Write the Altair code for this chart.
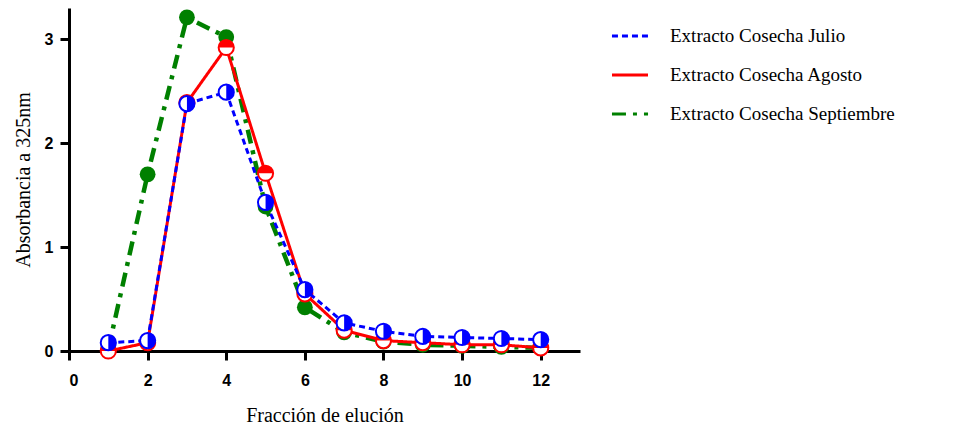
import altair as alt
import pandas as pd

fraccion = [1, 2, 3, 4, 5, 6, 7, 8, 9, 10, 11, 12]
julio = [0.08, 0.10, 2.38, 2.49, 1.43, 0.59, 0.27, 0.19, 0.14, 0.13, 0.12, 0.11]
agosto = [0.00, 0.08, 2.39, 2.92, 1.71, 0.55, 0.20, 0.10, 0.08, 0.06, 0.06, 0.03]
septiembre = [0.02, 1.70, 3.21, 3.02, 1.39, 0.42, 0.18, 0.09, 0.06, 0.05, 0.04, 0.03]

series_names = ["Extracto Cosecha Julio", "Extracto Cosecha Agosto", "Extracto Cosecha Septiembre"]
series_colors = ["#0000FF", "#FF0000", "#008000"]
series_dash = [[6, 4], [1, 0], [14, 7, 4, 7]]
series_values = [julio, agosto, septiembre]

rows = []
for name, vals in zip(series_names, series_values):
    for f, v in zip(fraccion, vals):
        rows.append({"fraccion": f, "absorbancia": v, "serie": name})
df = pd.DataFrame(rows)

x = alt.X("fraccion:Q", scale=alt.Scale(domain=[0, 13], nice=False),
          axis=alt.Axis(values=[0, 2, 4, 6, 8, 10, 12], title="Fracción de elución",
                        labelPadding=12, titlePadding=17))
y = alt.Y("absorbancia:Q", scale=alt.Scale(domain=[0, 3.3], nice=False),
          axis=alt.Axis(values=[0, 1, 2, 3], title="Absorbancia a 325nm",
                        labelPadding=7, titlePadding=11))

leg = dict(title=None, orient="none", legendX=541, legendY=8,
           symbolType="stroke", symbolSize=1300, symbolStrokeWidth=3,
           labelFont="Liberation Serif", labelFontSize=19,
           labelColor="black", rowPadding=9, labelOffset=20, labelLimit=400)

color = alt.Color("serie:N", scale=alt.Scale(domain=series_names, range=series_colors),
                  legend=alt.Legend(**leg))
dash = alt.StrokeDash("serie:N", scale=alt.Scale(domain=series_names, range=series_dash),
                      legend=alt.Legend(**leg))

half_right = "M0,-1 A1,1 0 0,1 0,1 Z"
half_top = "M-1,0 A1,1 0 0,1 1,0 Z"
fill_shapes = [half_right, half_top, "circle"]
widths = [3, 3, 4.5]

layers = []
for i in [2, 1, 0]:
    name = series_names[i]
    col = series_colors[i]
    sub = alt.Chart(df).transform_filter(alt.datum.serie == name)
    line = sub.mark_line(strokeWidth=widths[i]).encode(x=x, y=y, color=color, strokeDash=dash)
    if i == 2:
        pts = sub.mark_point(shape="circle", filled=True, color=col, size=250, opacity=1).encode(x=x, y=y)
        layers += [line, pts]
    else:
        ring = sub.mark_point(shape="circle", filled=True, fill="white", stroke=col,
                              strokeWidth=2, size=230, opacity=1).encode(x=x, y=y)
        half = sub.mark_point(shape=fill_shapes[i], filled=True, color=col, size=230,
                              opacity=1).encode(x=x, y=y)
        layers += [line, ring, half]

chart = alt.layer(*layers).properties(
    width=511, height=343,
    padding={"left": 5, "top": 0, "right": 5, "bottom": 5},
).configure_view(stroke=None).configure_axis(
    grid=False, domainColor="black", domainWidth=3, tickColor="black", tickWidth=3,
    tickSize=9, labelFont="Liberation Sans", labelFontWeight="bold", labelFontSize=16,
    labelColor="black", titleFont="Liberation Serif", titleFontWeight="normal",
    titleFontSize=20, titleColor="black"
)

chart.save("out.html", embed_options={"renderer": "svg", "actions": False})
